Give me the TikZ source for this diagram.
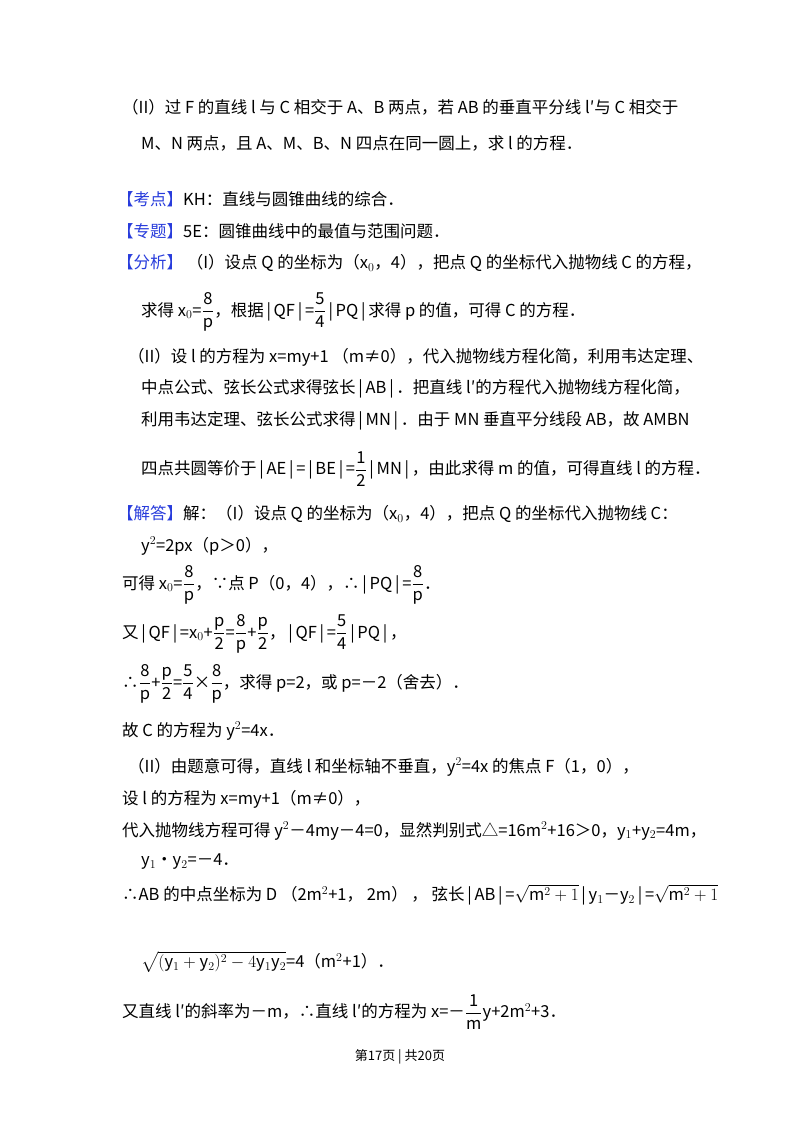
\documentclass[tikz,border=0pt]{standalone}
\usepackage{fontspec}
\usepackage{amsmath}
\setmainfont{Noto Sans CJK SC}
\definecolor{lblue}{RGB}{40,60,220}
\newcommand{\lab}[1]{\textcolor{lblue}{【#1】}}
\newcommand{\fr}[2]{$\dfrac{\mathrm{#1}}{\mathrm{#2}}$}
\newcommand{\ab}[1]{\,|\,#1\,|\,}
\begin{document}
\begin{tikzpicture}[x=1pt,y=-1pt,
  ln/.style={anchor=west,inner sep=0pt,font=\fontsize{16.5}{19}\selectfont}]
\useasboundingbox[fill=white] (0,0) rectangle (800,1133);
\node[ln] (l1) at (122,107) {（II）过 F 的直线 l 与 C 相交于 A、B 两点，若 AB 的垂直平分线 l′与 C 相交于};
\node[ln] (l2) at (141,143) {M、N 两点，且 A、M、B、N 四点在同一圆上，求 l 的方程．};
\node[ln] (l3) at (117,199) {\lab{考点}KH：直线与圆锥曲线的综合．};
\node[ln] (l4) at (117,231) {\lab{专题}5E：圆锥曲线中的最值与范围问题．};
\node[ln] (l5) at (117,263) {\lab{分析} （I）设点 Q 的坐标为（x$_0$，4），把点 Q 的坐标代入抛物线 C 的方程，};
\node[ln] (l6) at (141,312) {求得 x$_0$=\fr{8}{p}，根据\ab{QF}=\fr{5}{4}\ab{PQ}求得 p 的值，可得 C 的方程．};
\node[ln] (l7) at (128,357) {（II）设 l 的方程为 x=my+1 （m≠0），代入抛物线方程化简，利用韦达定理、};
\node[ln] (l8) at (141,389) {中点公式、弦长公式求得弦长\ab{AB}．把直线 l′的方程代入抛物线方程化简，};
\node[ln] (l9) at (141,421) {利用韦达定理、弦长公式求得\ab{MN}．由于 MN 垂直平分线段 AB，故 AMBN};
\node[ln] (l10) at (141,469) {四点共圆等价于\ab{AE}=\ab{BE}=\fr{1}{2}\ab{MN}，由此求得 m 的值，可得直线 l 的方程．};
\node[ln] (l11) at (117,514) {\lab{解答}解：（I）设点 Q 的坐标为（x$_0$，4），把点 Q 的坐标代入抛物线 C：};
\node[ln] (l12) at (141,546) {y$^2$=2px（p＞0），};
\node[ln] (l13) at (122,585) {可得 x$_0$=\fr{8}{p}，∵点 P（0，4），∴\ab{PQ}=\fr{8}{p}．};
\node[ln] (l14) at (122,634) {又\ab{QF}=x$_0$+\fr{p}{2}=\fr{8}{p}+\fr{p}{2}，\ab{QF}=\fr{5}{4}\ab{PQ}，};
\node[ln] (l15) at (122,684) {∴\fr{8}{p}+\fr{p}{2}=\fr{5}{4}×\fr{8}{p}，求得 p=2，或 p=－2（舍去）．};
\node[ln] (l16) at (122,731) {故 C 的方程为 y$^2$=4x．};
\node[ln] (l17) at (128,767) {（II）由题意可得，直线 l 和坐标轴不垂直，y$^2$=4x 的焦点 F（1，0），};
\node[ln] (l18) at (122,799) {设 l 的方程为 x=my+1（m≠0），};
\node[ln] (l19) at (122,831) {代入抛物线方程可得 y$^2$－4my－4=0，显然判别式△=16m$^2$+16＞0，y$_1$+y$_2$=4m，};
\node[ln] (l20) at (141,862) {y$_1$•y$_2$=－4．};
\node[ln] (l21) at (122,895) {∴AB 的中点坐标为 D （2m$^2$+1， 2m） ， 弦长\ab{AB}=$\sqrt{\mathrm{m}^2+1}$\ab{y$_1$－y$_2$}=$\sqrt{\mathrm{m}^2+1}$};
\node[ln] (l22) at (141,962) {$\sqrt{(\mathrm{y}_1+\mathrm{y}_2)^2-4\mathrm{y}_1\mathrm{y}_2}$=4（m$^2$+1）．};
\node[ln] (l23) at (122,1012) {又直线 l′的斜率为－m，∴直线 l′的方程为 x=－\fr{1}{m}y+2m$^2$+3．};
\node[anchor=center,inner sep=0pt,font=\fontsize{13}{15}\selectfont] (ft) at (400,1057) {第17页 | 共20页};
\end{tikzpicture}
\end{document}
